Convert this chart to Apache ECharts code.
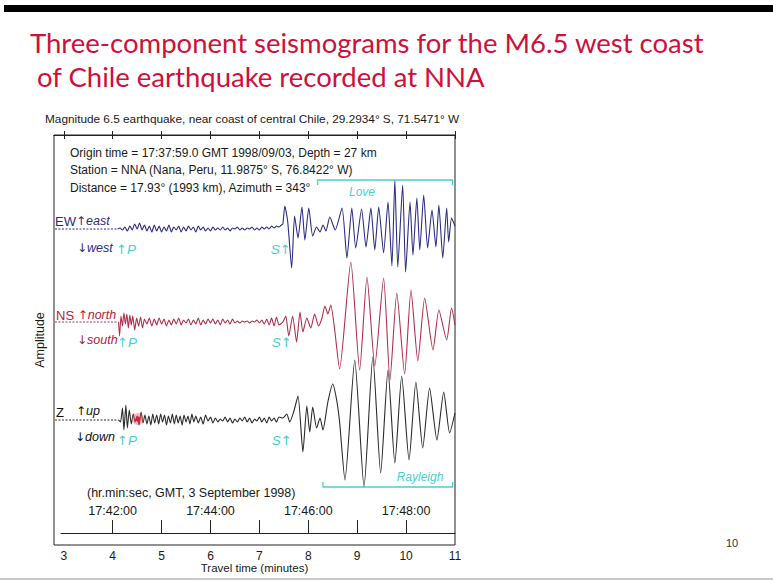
<!DOCTYPE html>
<html>
<head>
<meta charset="utf-8">
<script src="https://cdn.jsdelivr.net/npm/echarts@6/dist/echarts.min.js"></script>
<style>
  html, body { margin: 0; padding: 0; background: #fff; }
  #chart { width: 773px; height: 580px; }
</style>
</head>
<body>
<div id="chart"></div>
<script>
// Travel-time axis (minutes after origin) and the GMT clock axis drawn above it
const minuteTicks = [3, 4, 5, 6, 7, 8, 9, 10, 11];
const clockTicks = [4, 5, 6, 7, 8, 9, 10];
const clockLabelMinutes = [4, 6, 8, 10];
const clockLabels = ['17:42:00', '17:44:00', '17:46:00', '17:48:00'];

// Component traces: [travel time (min), relative ground motion]
const ewTrace = [
  [4.10,0],[4.15,1],[4.20,-1],[4.25,2],[4.30,-2],[4.35,3],[4.40,-1],[4.45,5],[4.50,0],[4.55,6],
  [4.60,-1],[4.65,4],[4.70,-2],[4.75,3],[4.80,-3],[4.85,4],[4.90,-2],[4.95,3],[5.00,-3],[5.05,2],
  [5.10,-2],[5.15,4],[5.20,-3],[5.25,2],[5.30,-1],[5.35,3],[5.40,-3],[5.45,2],[5.50,-2],[5.55,3],
  [5.60,-1],[5.65,2],[5.70,-3],[5.75,3],[5.80,-1],[5.85,2],[5.90,-2],[5.95,1],[6.00,-2],[6.05,2],
  [6.10,-1],[6.15,1],[6.20,-1],[6.25,2],[6.30,-1],[6.35,1],[6.40,-2],[6.45,1],[6.50,0],[6.55,2],
  [6.60,-1],[6.65,1],[6.70,-1],[6.75,1],[6.80,0],[6.85,2],[6.90,-1],[6.95,1],[7.00,-1],[7.05,2],
  [7.10,0],[7.15,2],[7.20,0],[7.25,3],[7.30,1],[7.35,3],[7.40,2],[7.45,4],
  [7.48,5],[7.52,23],[7.58,7],[7.66,-39],[7.72,13],[7.79,-9],[7.87,22],[7.93,-11],[8.01,21],[8.09,-7],
  [8.17,2],[8.24,-3],[8.30,4],[8.36,-2],[8.44,12],[8.55,-1],[8.69,21],[8.79,-29],[8.89,21],[8.97,-19],
  [9.09,20],[9.18,-18],[9.28,21],[9.36,-21],[9.44,22],[9.54,-24],[9.63,27],[9.71,-37],[9.77,49],[9.83,-38],
  [9.93,44],[9.99,-43],[10.08,27],[10.14,-26],[10.22,31],[10.28,-21],[10.36,34],[10.44,-19],[10.53,19],[10.61,-18],
  [10.67,24],[10.75,-29],[10.83,21],[10.87,-13],[10.93,11],[11.00,3]
];

const nsTrace = [
  [4.12,0],[4.14,-14],[4.17,6],[4.20,-4],[4.23,9],[4.26,-2],[4.29,8],[4.32,-6],[4.35,7],[4.38,-3],
  [4.41,6],[4.45,-8],[4.49,4],[4.53,-4],[4.57,5],[4.61,-6],[4.65,3],[4.70,-2],[4.75,4],[4.80,-4],
  [4.85,3],[4.90,-3],[4.95,4],[5.00,-2],[5.05,3],[5.10,-4],[5.15,2],[5.20,-3],[5.25,3],[5.30,-2],
  [5.35,4],[5.40,-3],[5.45,2],[5.50,-1],[5.55,3],[5.60,-3],[5.65,2],[5.70,-2],[5.75,4],[5.80,-3],
  [5.85,2],[5.90,-2],[5.95,3],[6.00,-1],[6.05,3],[6.10,-2],[6.15,2],[6.20,-3],[6.25,3],[6.30,-1],
  [6.35,2],[6.40,-2],[6.45,3],[6.50,-1],[6.55,1],[6.60,-1],[6.65,1],[6.70,0],[6.75,1],[6.80,-1],
  [6.85,1],[6.90,0],[6.95,2],[7.00,-1],[7.05,2],[7.10,-2],[7.15,3],[7.20,-3],[7.25,4],[7.30,-4],
  [7.35,5],[7.40,-3],[7.48,0],
  [7.54,6],[7.60,-14],[7.68,6],[7.76,-20],[7.83,10],[7.89,-10],[7.97,4],[8.05,-6],[8.13,8],[8.21,-4],
  [8.28,4],[8.34,16],[8.40,8],[8.46,17],[8.54,-8],[8.64,-47],[8.87,60],[9.05,-48],[9.20,45],[9.36,-44],
  [9.54,44],[9.67,-58],[9.81,29],[9.97,-52],[10.10,32],[10.24,-39],[10.38,24],[10.55,-28],[10.67,12],[10.83,-18],
  [10.93,14],[11.00,-3]
];

const zTrace = [
  [4.12,0],[4.16,-2],[4.20,12],[4.23,-10],[4.27,15],[4.30,-8],[4.34,10],[4.38,-4],[4.42,6],[4.46,-2],
  [4.50,4],[4.54,-5],[4.58,8],[4.62,-3],[4.66,5],[4.70,-4],[4.74,4],[4.78,-5],[4.82,6],[4.86,-3],
  [4.90,5],[4.94,-4],[4.98,6],[5.02,-2],[5.06,5],[5.10,-5],[5.14,4],[5.18,-3],[5.22,6],[5.26,-4],
  [5.30,5],[5.34,-3],[5.38,4],[5.42,-5],[5.46,5],[5.50,-2],[5.54,4],[5.58,-4],[5.62,6],[5.66,-2],
  [5.70,4],[5.75,-3],[5.80,3],[5.85,-4],[5.90,5],[5.95,-1],[6.00,3],[6.05,-3],[6.10,2],[6.15,-2],
  [6.20,1],[6.25,-1],[6.30,3],[6.35,-2],[6.40,2],[6.45,-3],[6.50,1],[6.55,-2],[6.60,2],[6.65,-1],
  [6.70,3],[6.75,-2],[6.80,2],[6.85,-3],[6.90,1],[6.95,-1],[7.00,3],[7.05,-2],[7.10,2],[7.15,-3],
  [7.20,3],[7.25,-1],[7.30,2],[7.35,-2],[7.40,3],
  [7.48,2],[7.56,6],[7.62,-2],[7.70,8],[7.79,24],[7.89,-32],[7.97,14],[8.03,-12],[8.09,13],[8.17,-8],
  [8.24,2],[8.30,-10],[8.40,18],[8.50,36],[8.58,20],[8.64,-2],[8.75,-60],[8.95,60],[9.14,-67],[9.32,63],
  [9.48,-53],[9.63,50],[9.77,-43],[9.91,44],[10.06,-40],[10.20,38],[10.34,-28],[10.48,32],[10.63,-20],[10.77,28],
  [10.89,-13],[11.00,7]
];

// Phase picks (travel time, min) for EW, NS, Z
const pArrivals = [4.15, 4.17, 4.17];
const sArrivals = [7.56, 7.58, 7.58];
// Surface-wave windows (travel time, min)
const loveWindow = [8.19, 10.95];
const rayleighWindow = [8.30, 10.95];

// ---------- layout ----------
const FONT = '"Liberation Sans", Arial, sans-serif';
const ARROW_FONT = '"DejaVu Sans", sans-serif';
const CYAN = '#45d2cc';
const GRID = { left: 54, right: 318, top: 135, bottom: 35 };
const X_MIN = 2.8, X_MAX = 11;
const pxPerMin = (773 - GRID.left - GRID.right) / (X_MAX - X_MIN);
const CLOCK_LEFT = 61;
const clockMin = X_MAX - (773 - CLOCK_LEFT - GRID.right) / pxPerMin;
const TRACE_START = 2.82;

const traces = [
  { name: 'EW', data: ewTrace, offset: -94,  color: '#2c2c82' },
  { name: 'NS', data: nsTrace, offset: -187, color: '#b0304c' },
  { name: 'Z',  data: zTrace,  offset: -285, color: '#2a2a2a' }
];

const phaseRich = {
  ph: { color: CYAN, fontSize: 13.5, fontStyle: 'italic', fontFamily: FONT },
  ar: { color: CYAN, fontSize: 13, fontFamily: ARROW_FONT }
};

const series = [];
traces.forEach((tr, i) => {
  // quiet pre-event baseline under the component label
  series.push({
    type: 'line', silent: true, showSymbol: false, animation: false,
    data: [[TRACE_START, tr.offset], [tr.data[0][0], tr.offset]],
    lineStyle: { color: tr.color, width: 1, type: [2, 1.5] }
  });
  series.push({
    name: tr.name, type: 'line', silent: true, showSymbol: false, animation: false,
    smooth: 0.2,
    data: tr.data.map(d => [d[0], d[1] + tr.offset]),
    lineStyle: { color: tr.color, width: 1.1 },
    markPoint: {
      silent: true, animation: false,
      symbol: 'circle', symbolSize: 0,
      data: [
        { coord: [pArrivals[i], tr.offset - 20],
          label: { show: true, position: 'right', distance: 0, offset: [-4, 0],
                   formatter: '{ar|↑}{ph|P}', rich: phaseRich } },
        { coord: [sArrivals[i], tr.offset - 20],
          label: { show: true, position: 'left', distance: 0, offset: [4, 0],
                   formatter: '{ph|S}{ar|↑}', rich: phaseRich } }
      ]
    }
  });
});

// Love and Rayleigh window brackets
const LOVE_Y = -45, RAYLEIGH_Y = -352, HOOK = 5;
series.push({
  type: 'line', silent: true, showSymbol: false, animation: false,
  data: [[loveWindow[0], LOVE_Y - HOOK], [loveWindow[0], LOVE_Y], [loveWindow[1], LOVE_Y], [loveWindow[1], LOVE_Y - HOOK]],
  lineStyle: { color: CYAN, width: 1.3 }
});
series.push({
  type: 'line', silent: true, showSymbol: false, animation: false,
  data: [[rayleighWindow[0], RAYLEIGH_Y + HOOK], [rayleighWindow[0], RAYLEIGH_Y], [rayleighWindow[1], RAYLEIGH_Y], [rayleighWindow[1], RAYLEIGH_Y + HOOK]],
  lineStyle: { color: CYAN, width: 1.3 }
});

function txt(x, y, text, opt) {
  return {
    type: 'text', x: x, y: y, silent: true, z: 10,
    style: Object.assign({ text: text, fontFamily: FONT, fontSize: 12, fill: '#1a1a1a',
      textAlign: 'left', textVerticalAlign: 'middle' }, opt || {})
  };
}

function richLabel(x, y, text, color) {
  return txt(x, y, text, {
    fill: color,
    rich: {
      n: { fontFamily: FONT, fontSize: 13, fill: color },
      i: { fontFamily: FONT, fontSize: 12.5, fontStyle: 'italic', fill: color },
      a: { fontFamily: ARROW_FONT, fontSize: 12, fill: color }
    }
  });
}

const graphic = [
  { type: 'rect', silent: true, shape: { x: 4, y: 5, width: 769, height: 7 }, style: { fill: '#000' } },
  { type: 'rect', silent: true, z: 20, shape: { x: 0, y: 578, width: 773, height: 2 }, style: { fill: '#c9c9c9' } },
  txt(30, 42, 'Three-component seismograms for the M6.5 west coast', { fontFamily: 'Lato, sans-serif', fontSize: 27.5, fill: '#d0103a' }),
  txt(37, 76, 'of Chile earthquake recorded at NNA', { fontFamily: 'Lato, sans-serif', fontSize: 27.5, fill: '#d0103a' }),
  txt(45, 119, 'Magnitude 6.5 earthquake, near coast of central Chile, 29.2934° S, 71.5471° W', { fontSize: 11.8 }),
  txt(70, 153, 'Origin time = 17:37:59.0 GMT 1998/09/03, Depth = 27 km'),
  txt(70, 170, 'Station = NNA (Nana, Peru, 11.9875° S, 76.8422° W)'),
  txt(70, 188, 'Distance = 17.93° (1993 km), Azimuth = 343°'),
  txt(362, 192, 'Love', { fill: CYAN, fontStyle: 'italic', fontSize: 12, textAlign: 'center' }),
  txt(420, 477, 'Rayleigh', { fill: CYAN, fontStyle: 'italic', fontSize: 12, textAlign: 'center' }),
  richLabel(55, 221, '{n|EW}{a|↑}{i|east}', '#2c2c82'),
  richLabel(77, 248, '{a|↓}{i|west}', '#2c2c82'),
  richLabel(56, 315, '{n|NS }{a|↑}{i|north}', '#b0203f'),
  richLabel(77, 340, '{a|↓}{i|south}', '#b0203f'),
  richLabel(56, 412, '{n|Z}', '#111'),
  richLabel(76, 411, '{a|↑}{i|up}', '#111'),
  richLabel(75, 437, '{a|↓}{i|down}', '#111'),
  txt(87, 493, '(hr.min:sec, GMT, 3 September 1998)', { fontSize: 12.5 }),
  txt(732, 543, '10', { fontSize: 11, textAlign: 'center', fill: '#333' }),
  { type: 'circle', silent: true, z: 12, shape: { cx: 138, cy: 419, r: 6 }, style: { fill: 'rgba(255,90,110,0.45)' } },
  { type: 'circle', silent: true, z: 13, shape: { cx: 138, cy: 419, r: 2.5 }, style: { fill: '#e0202e' } }
];

const axisText = { color: '#1a1a1a', fontFamily: FONT, fontSize: 12.5 };

const option = {
  backgroundColor: '#ffffff',
  animation: false,
  grid: [
    Object.assign({ show: true, borderColor: '#222', borderWidth: 1, backgroundColor: 'transparent',
      containLabel: false, outerBoundsMode: 'none' }, GRID),
    { left: CLOCK_LEFT, right: GRID.right, top: 520, height: 13, containLabel: false, outerBoundsMode: 'none' }
  ],
  xAxis: [
    {
      gridIndex: 0, type: 'value', min: X_MIN, max: X_MAX, position: 'bottom',
      axisLine: { show: true, lineStyle: { color: '#222', width: 1 } },
      axisTick: { show: true, inside: true, length: 4, customValues: minuteTicks, lineStyle: { color: '#222' } },
      axisLabel: { show: true, customValues: minuteTicks, margin: 5, ...axisText, fontSize: 12 },
      splitLine: { show: false },
      name: 'Travel time (minutes)', nameLocation: 'middle', nameGap: 17, nameMoveOverlap: false,
      nameTextStyle: Object.assign({}, axisText, { fontSize: 11.5 })
    },
    {
      gridIndex: 0, type: 'value', min: X_MIN, max: X_MAX, position: 'top',
      axisLine: { show: true, lineStyle: { color: '#222', width: 1 } },
      axisTick: { show: true, inside: true, length: 4, customValues: minuteTicks, lineStyle: { color: '#222' } },
      axisLabel: { show: false },
      splitLine: { show: false }
    },
    {
      gridIndex: 1, type: 'value', min: clockMin, max: X_MAX, position: 'bottom',
      axisLine: { show: true, lineStyle: { color: '#222', width: 1 } },
      axisTick: { show: true, inside: true, length: 13, customValues: clockTicks, lineStyle: { color: '#222' } },
      axisLabel: {
        show: true, inside: true, margin: 16, customValues: clockLabelMinutes,
        formatter: v => clockLabels[clockLabelMinutes.indexOf(Math.round(v))] || '',
        ...axisText
      },
      splitLine: { show: false }
    }
  ],
  yAxis: [
    {
      gridIndex: 0, type: 'value', min: -410, max: 0,
      axisLine: { show: false }, axisTick: { show: false }, axisLabel: { show: false },
      splitLine: { show: false },
      name: 'Amplitude', nameLocation: 'middle', nameGap: 8, nameRotate: 90,
      nameTextStyle: axisText
    },
    { gridIndex: 1, type: 'value', min: 0, max: 1, show: false }
  ],
  series: series,
  graphic: graphic
};

const chart = echarts.init(document.getElementById('chart'), null, { renderer: 'svg' });
chart.setOption(option);
</script>
</body>
</html>
